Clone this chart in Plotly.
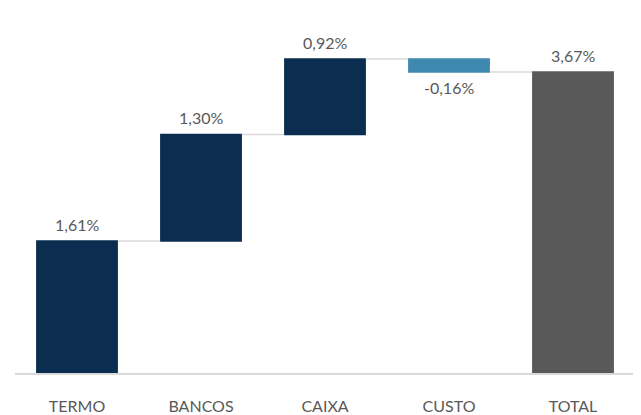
import plotly.graph_objects as go

categories = ["TERMO", "BANCOS", "CAIXA", "CUSTO", "TOTAL"]
values = [1.61, 1.30, 0.92, -0.16, 3.67]
measures = ["relative", "relative", "relative", "relative", "total"]
labels = ["1,61%", "1,30%", "0,92%", "-0,16%", "3,67%"]

fig = go.Figure(go.Waterfall(
    x=categories,
    y=[v if m == "relative" else 0 for v, m in zip(values, measures)],
    measure=measures,
    increasing=dict(marker=dict(color="#0b2e50")),
    decreasing=dict(marker=dict(color="#3f89b0")),
    totals=dict(marker=dict(color="#595959")),
    connector=dict(line=dict(color="#d9d9d9", width=1.5)),
    width=0.66,
    hoverinfo="skip",
))

# label annotations at bar ends
running = 0.0
for cat, v, m, lab in zip(categories, values, measures, labels):
    if m == "total":
        end = v
        running = v
    else:
        running += v
        end = running
    if v >= 0:
        fig.add_annotation(x=cat, y=end, text=lab, showarrow=False,
                           yanchor="bottom", yshift=5)
    else:
        fig.add_annotation(x=cat, y=end, text=lab, showarrow=False,
                           yanchor="top", yshift=-4)

fig.update_annotations(font=dict(size=16, color="#595959", family="Lato"))

# page body has an 8px default margin; compensate
fig.update_layout(
    width=633, height=407,
    margin=dict(l=7, r=6, t=2, b=42),
    paper_bgcolor="white", plot_bgcolor="white",
    showlegend=False,
    font=dict(family="Lato", color="#595959", size=16),
    xaxis=dict(showline=True, linecolor="#d9d9d9", linewidth=2, automargin=False,
               tickfont=dict(size=16, color="#595959"), ticks="", showgrid=False,
               ticklabelstandoff=18),
    yaxis=dict(visible=False, range=[0, 4.427], showgrid=False, zeroline=False,
               automargin=False),
)

fig.write_html("out.html")
